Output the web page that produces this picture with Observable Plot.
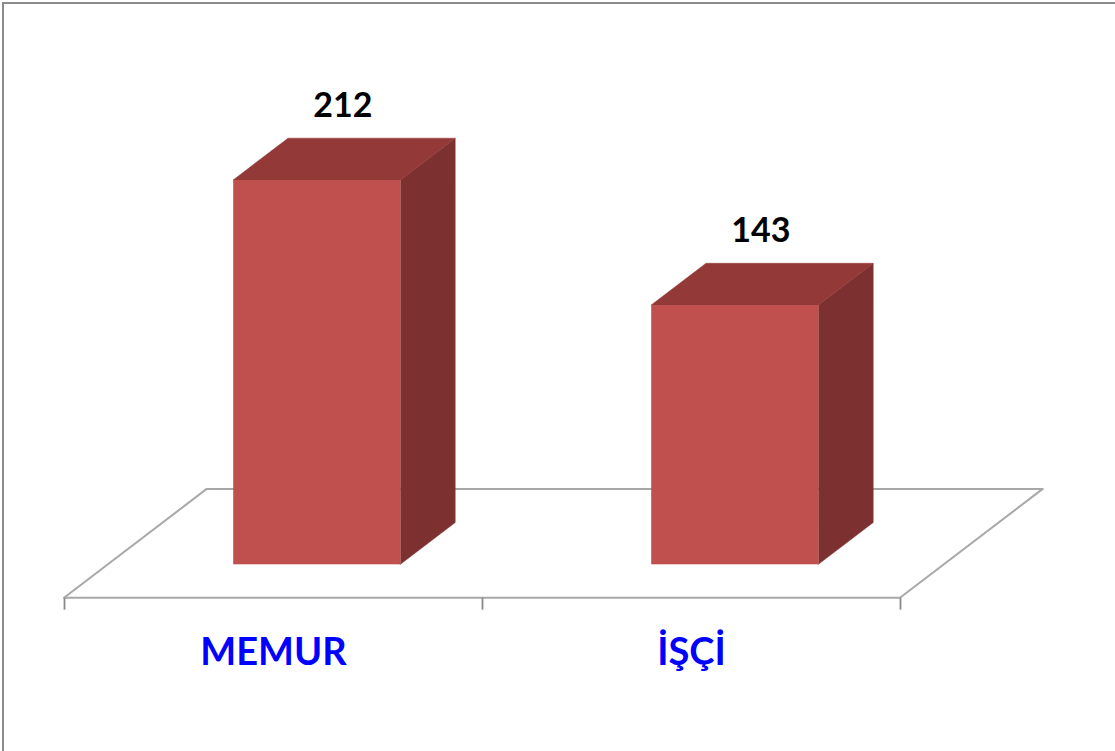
<!DOCTYPE html>
<html>
<head>
<meta charset="utf-8">
<script src="https://cdn.jsdelivr.net/npm/d3@7"></script>
<script src="https://cdn.jsdelivr.net/npm/@observablehq/plot@0.6"></script>
<style>
  html, body { margin: 0; padding: 0; background: #fff; overflow: hidden; }
  #wrap { position: relative; width: 1115px; height: 751px; }
  #frame { position: absolute; left: 2px; top: 2px; width: 1300px; height: 900px; border: 2px solid #8c8c8c; pointer-events: none; }
</style>
</head>
<body>
<div id="wrap"><div id="frame"></div></div>
<script>
// ---- data ----
const categories = ["MEMUR", "İŞÇİ"];
const values = [212, 143];
const categoryTicks = [0, 1, 2];

// ---- 3D projection settings (data units) ----
const DX = 0.3414;   // floor depth, horizontal shift (x units)
const DY = 60;       // floor depth, vertical shift (y units)
const zF = 0.307, zB = 0.691;   // bar front/back depth
const bx0 = 0.3, bx1 = 0.7;     // bar span inside a category

const bars = categories.map((c, i) => ({cat: c, i, value: values[i], x1: i + bx0, x2: i + bx1}));

const topFaces = bars.flatMap(d => [
  {cat: d.cat, y: d.value + zF * DY, x1: d.x1 + zF * DX, x2: d.x2 + zF * DX},
  {cat: d.cat, y: d.value + zB * DY, x1: d.x1 + zB * DX, x2: d.x2 + zB * DX}
]);
const sideFaces = bars.flatMap(d => [
  {cat: d.cat, x: d.x2 + zF * DX, y1: zF * DY, y2: d.value + zF * DY},
  {cat: d.cat, x: d.x2 + zB * DX, y1: zB * DY, y2: d.value + zB * DY}
]);
const n = categories.length;
const floor = [
  {y: 0, x1: 0, x2: n},
  {y: DY, x1: DX, x2: n + DX}
];

const font = "Lato, 'Open Sans', sans-serif";

const chart = Plot.plot({
  width: 1115,
  height: 751,
  x: {domain: [0, n], range: [64, 900], axis: null},
  y: {domain: [0, 100], range: [597.7, 416.4], axis: null},
  style: {fontFamily: font, background: "transparent"},
  marks: [
    Plot.areaX(floor, {y: "y", x1: "x1", x2: "x2", fill: "white", stroke: "#a8a8a8", strokeWidth: 2}),
    Plot.ruleX(categoryTicks, {x: d => d, y1: 0, y2: -6.6, stroke: "#8a8a8a", strokeWidth: 1.8}),
    Plot.areaY(sideFaces, {x: "x", y1: "y1", y2: "y2", z: "cat", fill: "#7C3130", stroke: "#7C3130", strokeWidth: 0.5}),
    Plot.areaX(topFaces, {y: "y", x1: "x1", x2: "x2", z: "cat", fill: "#933A38", stroke: "#933A38", strokeWidth: 0.5}),
    Plot.rect(bars, {x1: d => d.x1 + zF * DX, x2: d => d.x2 + zF * DX, y1: zF * DY, y2: d => d.value + zF * DY, fill: "#C0504D"}),
    Plot.text(bars, {x: d => d.i + 0.5 + 0.5 * DX, y: d => d.value + 0.5 * DY, dx: -2, dy: -53, text: d => String(d.value),
      fontSize: 34, fontWeight: "bold", fill: "black", fontFamily: font}),
    Plot.text(bars, {x: d => d.i + 0.5, y: 0, dy: 55, text: "cat", fontSize: 38, fontWeight: "bold", fill: "#0000ff", fontFamily: font})
  ]
});
document.getElementById("wrap").appendChild(chart);
</script>
</body>
</html>
